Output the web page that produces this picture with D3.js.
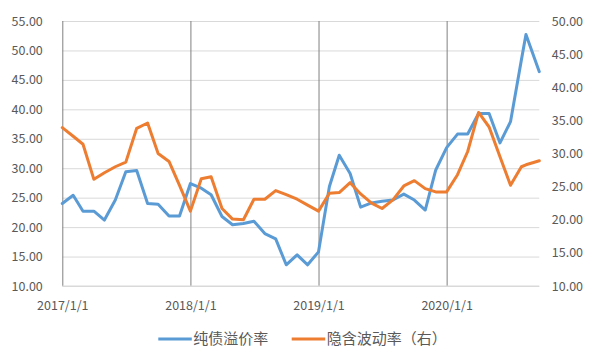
<!DOCTYPE html>
<html>
<head>
<meta charset="utf-8">
<script src="https://cdn.jsdelivr.net/npm/d3@7"></script>
<style>
  body { margin: 0; background: #fff; }
  svg { display: block; font-family: 'Noto Sans CJK SC', 'Noto Sans', sans-serif; }
</style>
</head>
<body>
<div id="chart"></div>
<script>
// monthly points, the last two are mid-month observations
const dates = [
  '2017-01-01', '2017-02-01', '2017-03-01', '2017-04-01', '2017-05-01', '2017-06-01',
  '2017-07-01', '2017-08-01', '2017-09-01', '2017-10-01', '2017-11-01', '2017-12-01',
  '2018-01-01', '2018-02-01', '2018-03-01', '2018-04-01', '2018-05-01', '2018-06-01',
  '2018-07-01', '2018-08-01', '2018-09-01', '2018-10-01', '2018-11-01', '2018-12-01',
  '2019-01-01', '2019-02-01', '2019-03-01', '2019-04-01', '2019-05-01', '2019-06-01',
  '2019-07-01', '2019-08-01', '2019-09-01', '2019-10-01', '2019-11-01', '2019-12-01',
  '2020-01-01', '2020-02-01', '2020-03-01', '2020-04-01', '2020-05-01', '2020-06-01',
  '2020-07-01', '2020-08-01', '2020-08-14', '2020-09-21',
]

// 纯债溢价率 (left axis)
const bondPremium = [
  24.0, 25.4, 22.7, 22.7, 21.2, 24.6, 29.4, 29.6, 24.0, 23.9, 21.9, 21.9,
  27.4, 26.6, 25.5, 21.8, 20.4, 20.6, 21.0, 18.9, 18.0, 13.6, 15.3, 13.6,
  15.8, 26.9, 32.2, 29.1, 23.4, 24.1, 24.4, 24.6, 25.6, 24.6, 22.9, 29.7,
  33.5, 35.8, 35.8, 39.3, 39.3, 34.3, 37.9, 48.4, 52.7, 46.4,
]

// 隐含波动率 (right axis)
const impliedVol = [
  33.9, 32.6, 31.4, 26.1, 27.1, 28.0, 28.7, 33.8, 34.6, 30.0, 28.8, 25.2,
  21.3, 26.2, 26.5, 21.7, 20.1, 20.0, 23.1, 23.1, 24.4, 23.8, 23.1, 22.2,
  21.3, 24.0, 24.1, 25.6, 23.9, 22.5, 21.7, 23.0, 25.1, 25.9, 24.7, 24.2,
  24.2, 26.8, 30.3, 36.2, 34.0, 29.5, 25.2, 28.0, 28.3, 28.9,
]

const leftTicks = [10, 15, 20, 25, 30, 35, 40, 45, 50, 55]
const rightTicks = [10, 15, 20, 25, 30, 35, 40, 45, 50]
const yearTicks = ['2017-01-01', '2018-01-01', '2019-01-01', '2020-01-01']
const seriesNames = ['纯债溢价率', '隐含波动率（右）']
const colors = ['#5b9bd5', '#ed7d31']

const W = 602, H = 353
const plot = { left: 62.3, right: 539.3, top: 21, bottom: 286 }
const textColor = '#595959'

const parse = d3.timeParse('%Y-%m-%d')
const fmtDate = d3.timeFormat('%Y/%-m/%-d')

const svg = d3.select('#chart').append('svg')
  .attr('width', W)
  .attr('height', H)

const x = d3.scaleTime()
  .domain([parse(dates[0]), parse(dates[dates.length - 1])])
  .range([plot.left, plot.right])

const yL = d3.scaleLinear().domain([10, 55]).range([plot.bottom, plot.top])
const yR = d3.scaleLinear().domain([10, 50]).range([plot.bottom, plot.top])

// horizontal grid + left labels
svg.append('g')
  .attr('transform', `translate(${plot.left},0)`)
  .call(d3.axisLeft(yL)
    .tickValues(leftTicks)
    .tickFormat(d3.format('.2f'))
    .tickSize(-(plot.right - plot.left))
    .tickPadding(19.5))
  .call(g => g.select('.domain').remove())
  .call(g => g.selectAll('.tick line').attr('stroke', '#d9d9d9'))
  .call(g => g.selectAll('.tick text')
    .attr('fill', textColor)
    .style('font-size', '12.5px')
    .style('font-family', "'Noto Sans CJK SC', sans-serif"))

// right labels
svg.append('g')
  .attr('transform', `translate(${plot.right},0)`)
  .call(d3.axisRight(yR)
    .tickValues(rightTicks)
    .tickFormat(d3.format('.2f'))
    .tickSize(0)
    .tickPadding(12.5))
  .call(g => g.select('.domain').remove())
  .call(g => g.selectAll('.tick text')
    .attr('fill', textColor)
    .style('font-size', '12.5px')
    .style('font-family', "'Noto Sans CJK SC', sans-serif"))

// year lines + date labels
svg.append('g')
  .attr('transform', `translate(0,${plot.bottom})`)
  .call(d3.axisBottom(x)
    .tickValues(yearTicks.map(parse))
    .tickFormat(fmtDate)
    .tickSize(-(plot.bottom - plot.top))
    .tickPadding(15))
  .call(g => g.select('.domain').remove())
  .call(g => g.selectAll('.tick line').attr('stroke', '#808080'))
  .call(g => g.selectAll('.tick text')
    .attr('fill', textColor)
    .style('font-size', '12.5px')
    .style('font-family', "'Noto Sans CJK SC', sans-serif"))

// bottom axis line
svg.append('line')
  .attr('x1', plot.left).attr('x2', plot.right)
  .attr('y1', plot.bottom).attr('y2', plot.bottom)
  .attr('stroke', '#d9d9d9')

const lineL = d3.line()
  .x((d, i) => x(parse(dates[i])))
  .y(d => yL(d))
const lineR = d3.line()
  .x((d, i) => x(parse(dates[i])))
  .y(d => yR(d))

svg.append('path')
  .datum(bondPremium)
  .attr('d', lineL)
  .attr('fill', 'none')
  .attr('stroke', colors[0])
  .attr('stroke-width', 3)
  .attr('stroke-linejoin', 'round')
  .attr('stroke-linecap', 'round')

svg.append('path')
  .datum(impliedVol)
  .attr('d', lineR)
  .attr('fill', 'none')
  .attr('stroke', colors[1])
  .attr('stroke-width', 3)
  .attr('stroke-linejoin', 'round')
  .attr('stroke-linecap', 'round')

// legend
const legendX = [158.3, 291.7]
const legend = svg.append('g')
  .selectAll('g')
  .data(seriesNames)
  .enter()
  .append('g')
  .attr('transform', (d, i) => `translate(${legendX[i]},339)`)

legend.append('line')
  .attr('x1', 0).attr('x2', 33.5)
  .attr('y1', 0).attr('y2', 0)
  .attr('stroke', (d, i) => colors[i])
  .attr('stroke-width', 3)

legend.append('text')
  .attr('x', 35)
  .attr('y', 0)
  .attr('dy', '0.33em')
  .attr('fill', textColor)
  .style('font-size', '15px')
  .text(d => d)
</script>
</body>
</html>
